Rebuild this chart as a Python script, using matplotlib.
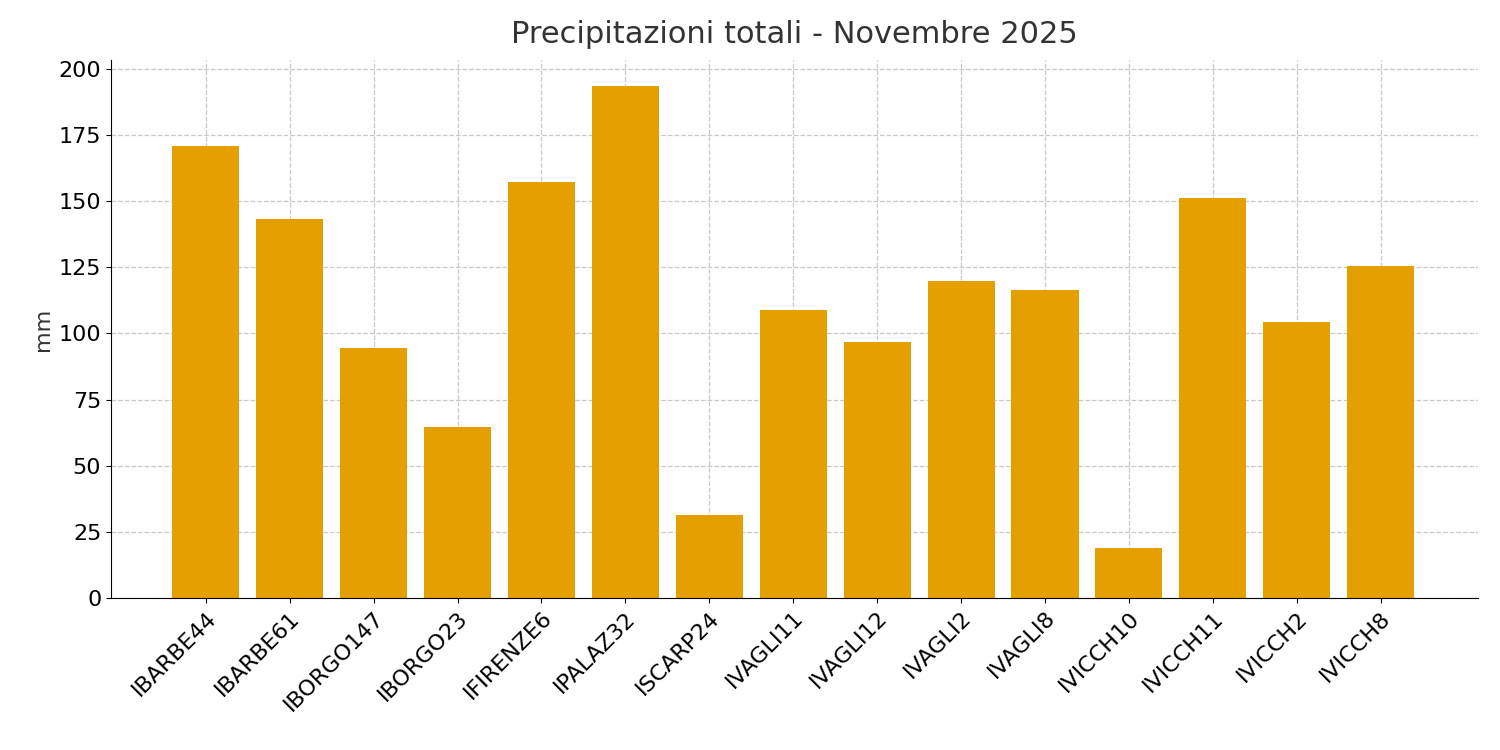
import matplotlib
matplotlib.use("Agg")
import matplotlib.pyplot as plt

stations = ["IBARBE44","IBARBE61","IBORGO147","IBORGO23","IFIRENZE6","IPALAZ32","ISCARP24",
            "IVAGLI11","IVAGLI12","IVAGLI2","IVAGLI8","IVICCH10","IVICCH11","IVICCH2","IVICCH8"]
values = [170.9,143.3,94.5,64.6,157.3,193.6,31.4,108.9,96.8,119.8,116.4,18.9,151.2,104.3,125.5]

fig = plt.figure(figsize=(15,7.5), dpi=100)
ax = fig.add_axes([111/1500, 1-598/750, (1478-111)/1500, (598-60)/750])
x = list(range(len(stations)))
ax.bar(x, values, width=0.8, color="#E69F00", zorder=2)
ax.set_xlim(-1.13, 15.16)
ax.set_ylim(0, 203.4)
ax.set_xticks(x)
ax.set_xticklabels(stations, rotation=45, ha="right", rotation_mode="anchor", fontsize=16)
ax.set_yticks(range(0, 201, 25))
ax.tick_params(axis="y", labelsize=16)
ax.grid(True, linestyle="--", color="#c8c8c8", linewidth=0.9, zorder=0)
ax.set_axisbelow(True)
for s in ["top","right"]:
    ax.spines[s].set_visible(False)
ax.set_ylabel("mm", fontsize=16, color="#333333")
ax.set_title("Precipitazioni totali - Novembre 2025", fontsize=22, color="#333333", pad=12)
fig.savefig("out.png", dpi=100)
